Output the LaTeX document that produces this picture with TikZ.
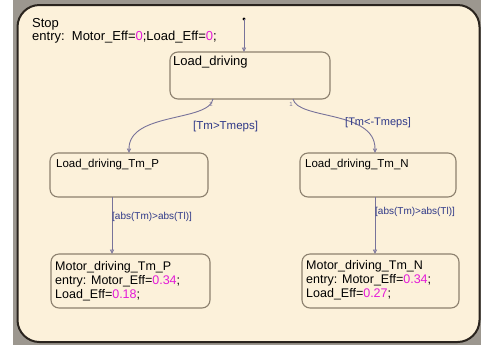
\documentclass[tikz,border=0pt]{standalone}
\usepackage{fontspec}
\setmainfont{Liberation Sans}
\usetikzlibrary{arrows.meta}
\definecolor{cream}{HTML}{FCF1DA}
\definecolor{bggray}{HTML}{9C978F}
\definecolor{outerline}{HTML}{2A241E}
\definecolor{stateline}{HTML}{8C806E}
\definecolor{transline}{HTML}{78739A}
\definecolor{translabel}{HTML}{2E3888}
\definecolor{mag}{HTML}{E41BD8}
\tikzset{
  outerbox/.style={draw=outerline, line width=2pt, fill=cream, rounded corners=22pt, inner sep=0pt, outer sep=0pt},
  statebox/.style={draw=stateline, line width=1.1pt, fill=cream, rounded corners=8pt, inner sep=0pt, outer sep=0pt, anchor=north west},
  stxt/.style={anchor=base west, inner sep=0pt, font=\fontsize{12.5}{14}\selectfont, text=black},
  trans/.style={draw=transline, line width=0.9pt, -{Triangle[open,length=4.5pt,width=4pt]}},
  tlabel/.style={inner sep=0pt, font=\fontsize{10}{12}\selectfont, text=translabel},
  ordlabel/.style={inner sep=0pt, font=\fontsize{6}{7}\selectfont, text=transline}
}
\begin{document}
\begin{tikzpicture}[x=1pt,y=-1pt]
\useasboundingbox (0,0) rectangle (481,349);
\fill[white] (0,0) rectangle (481,349);
\fill[bggray] (13,0) rectangle (481,345);
% outer Stop state
\node[outerbox, minimum width=462pt, minimum height=337pt] (stop) at (248.5,173.5) {};
\node[stxt, font=\fontsize{13}{15}\selectfont] (stopname) at (32,27) {Stop};
\node[stxt, font=\fontsize{13}{15}\selectfont] (stopentry) at (32,40) {entry:\ \ Motor\_Eff=\textcolor{mag}{0};Load\_Eff=\textcolor{mag}{0};};
% states
\node[statebox, minimum width=160pt, minimum height=47pt] (ld) at (170,52) {};
\node[stxt, font=\fontsize{13}{15}\selectfont] (ldt) at (173,65) {Load\_driving};
\node[statebox, minimum width=158pt, minimum height=44pt] (ldp) at (50,153) {};
\node[stxt, font=\fontsize{11.5}{14}\selectfont] (ldpt) at (56,167) {Load\_driving\_Tm\_P};
\node[statebox, minimum width=156pt, minimum height=44pt] (ldn) at (300,153) {};
\node[stxt, font=\fontsize{11.5}{14}\selectfont] (ldnt) at (305,167) {Load\_driving\_Tm\_N};
\node[statebox, minimum width=159pt, minimum height=54pt] (mp) at (51,254) {};
\node[stxt] (mpt1) at (55,270) {Motor\_driving\_Tm\_P};
\node[stxt] (mpt2) at (55,284) {entry: Motor\_Eff=\textcolor{mag}{0.34};};
\node[stxt] (mpt3) at (55,298) {Load\_Eff=\textcolor{mag}{0.18};};
\node[statebox, minimum width=157pt, minimum height=54pt] (mn) at (302,254) {};
\node[stxt] (mnt1) at (306,269) {Motor\_driving\_Tm\_N};
\node[stxt] (mnt2) at (306,283) {entry: Motor\_Eff=\textcolor{mag}{0.34};};
\node[stxt] (mnt3) at (306,297) {Load\_Eff=\textcolor{mag}{0.27};};
% default transition
\fill[black] (244,19) circle (1.6pt);
\coordinate (dflt) at (244,19);
\draw[trans] (dflt) -- (ld.north -| dflt);
% transitions
\coordinate (s1) at (213,99);
\coordinate (e1) at (129,153);
\draw[trans] (s1) .. controls (209,122) and (129,112) .. (e1);
\node[tlabel, anchor=west, font=\fontsize{11.5}{13}\selectfont] (l1) at (193,127) {[Tm>Tmeps]};
\node[ordlabel] (o1) at (211,104) {2};
\coordinate (s2) at (293,99);
\coordinate (e2) at (375,153);
\draw[trans] (s2) .. controls (298,120) and (375,110) .. (e2);
\node[tlabel, anchor=west, font=\fontsize{11}{13}\selectfont] (l2) at (345,123) {[Tm<-Tmeps]};
\node[ordlabel] (o2) at (291,104) {1};
\coordinate (s3) at (112,197);
\draw[trans] (s3) -- (mp.north -| s3);
\node[tlabel, anchor=west] (l3) at (112,217) {[abs(Tm)>abs(Tl)]};
\coordinate (s4) at (375,197);
\draw[trans] (s4) -- (mn.north -| s4);
\node[tlabel, anchor=west] (l4) at (375,212) {[abs(Tm)>abs(Tl)]};
\end{tikzpicture}
\end{document}
